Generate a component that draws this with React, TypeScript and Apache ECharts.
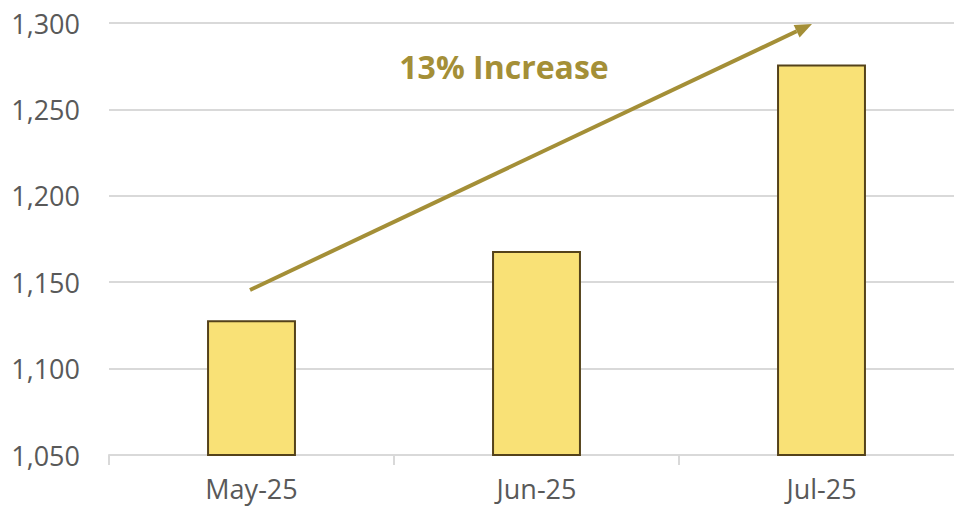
import React, { useEffect, useRef } from "react";
import * as echarts from "echarts";

const categories = ["May-25", "Jun-25", "Jul-25"];
const values = [1128, 1168, 1276];
const yMin = 1050;
const yMax = 1300;
const yStep = 50;
const annotationText = "13% Increase";

export default function App() {
  const ref = useRef<HTMLDivElement>(null);
  useEffect(() => {
    if (!ref.current) return;
    const chart = echarts.init(ref.current, null, { renderer: "svg" });
    const olive = "#A48F37";
    const sx = 250, sy = 290, tx = 812, ty = 24;
    const dx = tx - sx, dy = ty - sy;
    const len = Math.sqrt(dx * dx + dy * dy);
    const ux = dx / len, uy = dy / len;
    const headLen = 17, headHalf = 7;
    const bx = tx - ux * headLen, by = ty - uy * headLen;
    const nx = -uy, ny = ux;
    chart.setOption({
      animation: false,
      grid: { left: 109, top: 23, right: 6, height: 432, containLabel: false },
      xAxis: {
        type: "category",
        data: categories,
        axisLine: { lineStyle: { color: "#d9d9d9", width: 2 } },
        axisTick: { show: true, length: 10, lineStyle: { color: "#d9d9d9", width: 2 } },
        axisLabel: {
          color: "#595959",
          fontFamily: "Open Sans",
          fontSize: 27,
          margin: 20,
        },
      },
      yAxis: {
        type: "value",
        min: yMin,
        max: yMax,
        interval: yStep,
        axisLine: { show: false },
        axisTick: { show: false },
        splitLine: { lineStyle: { color: "#d9d9d9", width: 2 } },
        axisLabel: {
          color: "#595959",
          fontFamily: "Open Sans",
          fontSize: 27,
          margin: 29,
          formatter: (v: number) => v.toLocaleString("en-US"),
        },
      },
      series: [
        {
          type: "bar",
          data: values,
          barWidth: "31.2%",
          itemStyle: { color: "#F9E176", borderColor: "#54421A", borderWidth: 2 },
        },
      ],
      graphic: [
        {
          type: "line",
          shape: { x1: sx, y1: sy, x2: bx, y2: by },
          style: { stroke: olive, lineWidth: 4 },
          z: 100,
        },
        {
          type: "polygon",
          shape: {
            points: [
              [tx, ty],
              [bx + nx * headHalf, by + ny * headHalf],
              [bx - nx * headHalf, by - ny * headHalf],
            ],
          },
          style: { fill: olive },
          z: 100,
        },
        {
          type: "text",
          x: 504,
          y: 66,
          style: {
            text: annotationText,
            fill: olive,
            font: "bold 32px 'Open Sans'",
            textAlign: "center",
            textVerticalAlign: "middle",
          },
          z: 100,
        },
      ],
    });
    return () => chart.dispose();
  }, []);
  return (
    <div
      style={{
        position: "fixed",
        left: 0,
        top: 0,
        width: 954,
        height: 514,
        overflow: "hidden",
        background: "#fff",
      }}
    >
      <div ref={ref} style={{ width: 970, height: 514 }} />
    </div>
  );
}
